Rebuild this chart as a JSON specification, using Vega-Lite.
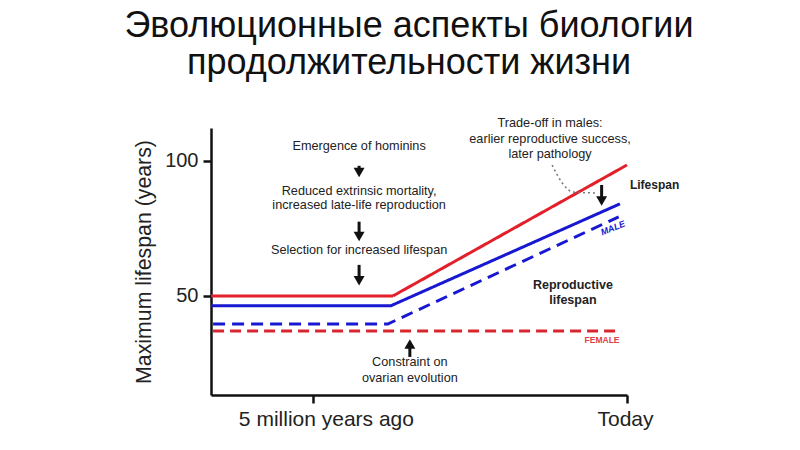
{
  "$schema": "https://vega.github.io/schema/vega-lite/v6.json",
  "width": 416,
  "height": 267,
  "autosize": {"type": "none"},
  "padding": {"left": 211, "top": 128, "right": 173, "bottom": 55},
  "background": "white",
  "config": {
    "view": {"stroke": null},
    "font": "Liberation Sans",
    "axis": {"grid": false, "domainColor": "#111", "domainWidth": 2.5, "tickColor": "#111", "tickWidth": 2.5, "tickSize": 8, "labelColor": "#222", "labelFont": "Liberation Sans", "labelFontSize": 20, "titleFont": "Liberation Sans"}
  },
  "title": {
    "text": ["Эволюционные аспекты биологии", "продолжительности жизни"],
    "fontSize": 36,
    "fontWeight": "normal",
    "color": "#111",
    "font": "Liberation Sans",
    "anchor": "middle",
    "frame": "group",
    "baseline": "bottom",
    "lineHeight": 37,
    "dx": -10,
    "dy": 47,
    "offset": 46
  },
  "datasets": {
    "lines": [
      {"series": "Lifespan female", "x": 0, "y": 50},
      {"series": "Lifespan female", "x": 43.75, "y": 50},
      {"series": "Lifespan female", "x": 100, "y": 98.5},
      {"series": "Lifespan male", "x": 0, "y": 46.4},
      {"series": "Lifespan male", "x": 43.3, "y": 46.4},
      {"series": "Lifespan male", "x": 98.3, "y": 84.1},
      {"series": "Reproductive male", "x": 0.5, "y": 39.6},
      {"series": "Reproductive male", "x": 42.5, "y": 39.6},
      {"series": "Reproductive male", "x": 98, "y": 79.3},
      {"series": "Reproductive female", "x": 0.5, "y": 37},
      {"series": "Reproductive female", "x": 98.6, "y": 37}
    ],
    "curve": [
      {"x": 82.0, "y": 98.5},
      {"x": 84.4, "y": 91.9},
      {"x": 87.0, "y": 88.5},
      {"x": 93.0, "y": 88.1}
    ],
    "arrows": [
      {"x": 35.6, "y": 98.2, "y2": 95.7, "dir": "down"},
      {"x": 35.6, "y": 77.5, "y2": 72.0, "dir": "down"},
      {"x": 35.6, "y": 61.5, "y2": 55.6, "dir": "down"},
      {"x": 93.9, "y": 91.1, "y2": 85.2, "dir": "down"},
      {"x": 47.8, "y": 27.4, "y2": 32.2, "dir": "up"}
    ],
    "notes": [
      {"x": 35.6, "y": 105.6, "label": "Emergence of hominins"},
      {"x": 35.6, "y": 88.9, "label": "Reduced extrinsic mortality,"},
      {"x": 35.6, "y": 83.7, "label": "increased late-life reproduction"},
      {"x": 35.6, "y": 67.0, "label": "Selection for increased lifespan"},
      {"x": 81.5, "y": 114.1, "label": "Trade-off in males:"},
      {"x": 81.5, "y": 108.1, "label": "earlier reproductive success,"},
      {"x": 81.5, "y": 102.6, "label": "later pathology"},
      {"x": 47.8, "y": 25.6, "label": "Constraint on"},
      {"x": 47.8, "y": 19.6, "label": "ovarian evolution"}
    ],
    "bold": [
      {"x": 87.0, "y": 54.1, "label": "Reproductive"},
      {"x": 87.0, "y": 48.5, "label": "lifespan"}
    ]
  },
  "layer": [
    {
      "data": {"name": "lines"},
      "mark": {"type": "line", "strokeWidth": 3, "strokeCap": "butt"},
      "encoding": {
        "x": {"field": "x", "type": "quantitative", "scale": {"domain": [0, 100], "nice": false, "zero": false},
          "axis": {"values": [24.5, 100], "title": null, "labelExpr": "datum.value == 100 ? 'Today' : '5 million years ago'", "labelPadding": 5, "labelFontSize": 21, "labelFlush": false, "labelOffset": {"condition": {"test": "datum.value == 100", "value": -2}, "value": 13}}},
        "y": {"field": "y", "type": "quantitative", "scale": {"domain": [13.3, 112.2], "nice": false, "zero": false},
          "axis": {"values": [50, 100], "title": "Maximum lifespan (years)", "titleFontSize": 21.3, "titleFontWeight": "normal", "titleColor": "#222", "titlePadding": 10, "labelPadding": 5}},
        "detail": {"field": "series"},
        "color": {"field": "series", "type": "nominal", "legend": null,
          "scale": {"domain": ["Lifespan female", "Lifespan male", "Reproductive male", "Reproductive female"], "range": ["#e3202a", "#1818d2", "#1818d2", "#d8262c"]}},
        "strokeDash": {"field": "series", "type": "nominal", "legend": null,
          "scale": {"domain": ["Lifespan female", "Lifespan male", "Reproductive male", "Reproductive female"], "range": [[1, 0], [1, 0], [12, 7], [11, 6]]}}
      }
    },
    {
      "data": {"name": "curve"},
      "mark": {"type": "line", "interpolate": "monotone", "strokeWidth": 1.5, "strokeDash": [2, 3], "color": "#777"},
      "encoding": {
        "x": {"field": "x", "type": "quantitative"},
        "y": {"field": "y", "type": "quantitative"}
      }
    },
    {
      "data": {"name": "arrows"},
      "mark": {"type": "rule", "strokeWidth": 3, "color": "#111"},
      "encoding": {
        "x": {"field": "x", "type": "quantitative"},
        "y": {"field": "y", "type": "quantitative"},
        "y2": {"field": "y2"}
      }
    },
    {
      "data": {"name": "arrows"},
      "mark": {"type": "point", "filled": true, "size": 120, "color": "#111", "opacity": 1},
      "encoding": {
        "x": {"field": "x", "type": "quantitative"},
        "y": {"field": "y2", "type": "quantitative"},
        "shape": {"field": "dir", "type": "nominal", "legend": null, "scale": {"domain": ["down", "up"], "range": ["triangle-down", "triangle-up"]}}
      }
    },
    {
      "data": {"name": "notes"},
      "mark": {"type": "text", "fontSize": 12.7, "color": "#222", "align": "center", "baseline": "middle"},
      "encoding": {
        "x": {"field": "x", "type": "quantitative"},
        "y": {"field": "y", "type": "quantitative"},
        "text": {"field": "label"}
      }
    },
    {
      "data": {"name": "bold"},
      "mark": {"type": "text", "fontSize": 12.5, "fontWeight": "bold", "color": "#222", "align": "center", "baseline": "middle"},
      "encoding": {
        "x": {"field": "x", "type": "quantitative"},
        "y": {"field": "y", "type": "quantitative"},
        "text": {"field": "label"}
      }
    },
    {
      "data": {"values": [{"x": 100.7, "y": 91.1, "label": "Lifespan"}]},
      "mark": {"type": "text", "fontSize": 12, "fontWeight": "bold", "color": "#222", "align": "left", "baseline": "middle"},
      "encoding": {
        "x": {"field": "x", "type": "quantitative"},
        "y": {"field": "y", "type": "quantitative"},
        "text": {"field": "label"}
      }
    },
    {
      "data": {"values": [{"x": 96.6, "y": 75.2, "label": "MALE"}]},
      "mark": {"type": "text", "fontSize": 9, "fontWeight": "bold", "fontStyle": "italic", "color": "#1818d2", "align": "center", "baseline": "middle", "angle": 338},
      "encoding": {
        "x": {"field": "x", "type": "quantitative"},
        "y": {"field": "y", "type": "quantitative"},
        "text": {"field": "label"}
      }
    },
    {
      "data": {"values": [{"x": 94.0, "y": 33.7, "label": "FEMALE"}]},
      "mark": {"type": "text", "fontSize": 8.5, "fontWeight": "bold", "color": "#e04048", "align": "center", "baseline": "middle"},
      "encoding": {
        "x": {"field": "x", "type": "quantitative"},
        "y": {"field": "y", "type": "quantitative"},
        "text": {"field": "label"}
      }
    }
  ]
}
